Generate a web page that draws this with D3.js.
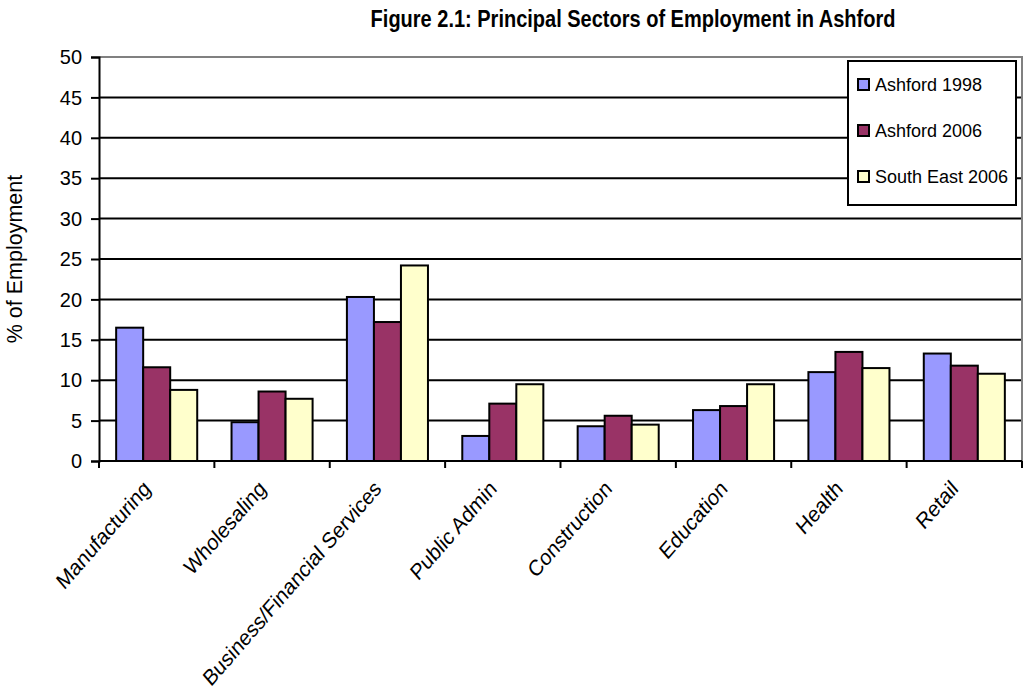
<!DOCTYPE html>
<html>
<head>
<meta charset="utf-8">
<script src="https://cdn.jsdelivr.net/npm/d3@7"></script>
<style>
  body { margin: 0; background: #fff; }
  text { font-family: Arial, "Liberation Sans", sans-serif; fill: #000; }
</style>
</head>
<body>
<script>
// chart data
const categories = ["Manufacturing", "Wholesaling", "Business/Financial Services", "Public Admin",
    "Construction", "Education", "Health", "Retail"];
const seriesNames = ["Ashford 1998", "Ashford 2006", "South East 2006"];
const ashford1998 = [16.5, 4.8, 20.3, 3.1, 4.3, 6.3, 11.0, 13.3];
const ashford2006 = [11.6, 8.6, 17.2, 7.1, 5.6, 6.8, 13.5, 11.8];
const southEast2006 = [8.8, 7.7, 24.2, 9.5, 4.5, 9.5, 11.5, 10.8];
const yTicks = [0, 5, 10, 15, 20, 25, 30, 35, 40, 45, 50];
const colours = ["#9999FF", "#993366", "#FFFFCC"];

const width = 1024;
const height = 697;
const margin = { top: 57, right: 2, bottom: 236, left: 99 };

const svg = d3.select("body")
    .append("svg")
    .attr("width", width)
    .attr("height", height);

const x = d3.scaleBand()
    .domain(categories)
    .range([margin.left, width - margin.right])
    .paddingInner(0)
    .paddingOuter(0);

const y = d3.scaleLinear()
    .domain([0, 50])
    .range([height - margin.bottom, margin.top]);

const seriesValues = [ashford1998, ashford2006, southEast2006];
const barW = x.bandwidth() / 4.27;
const groupOffset = (x.bandwidth() - 3 * barW) / 2;

// gridlines
svg.append("g")
    .selectAll("line")
    .data(yTicks.filter(d => d > 0 && d < 50))
    .join("line")
    .attr("x1", margin.left)
    .attr("x2", width - margin.right)
    .attr("y1", d => y(d))
    .attr("y2", d => y(d))
    .attr("stroke", "#000")
    .attr("stroke-width", 2);

// plot frame top and right (grey)
svg.append("path")
    .attr("d", `M${margin.left},${y(50)}H${width - margin.right}V${y(0)}`)
    .attr("fill", "none")
    .attr("stroke", "#808080")
    .attr("stroke-width", 2);

// bars
seriesValues.forEach((vals, s) => {
    svg.append("g")
        .selectAll("rect")
        .data(vals)
        .join("rect")
        .attr("x", (d, i) => x(categories[i]) + groupOffset + s * barW)
        .attr("y", d => y(d))
        .attr("width", barW)
        .attr("height", d => y(0) - y(d))
        .attr("fill", colours[s])
        .attr("stroke", "#000")
        .attr("stroke-width", 2);
});

// y axis
const yAxis = svg.append("g")
    .attr("transform", `translate(${margin.left},0)`)
    .call(d3.axisLeft(y).tickValues(yTicks).tickSize(8).tickPadding(9));
yAxis.select(".domain").attr("stroke", "#000").attr("stroke-width", 2);
yAxis.selectAll(".tick line").attr("stroke", "#000").attr("stroke-width", 2);
yAxis.selectAll(".tick text")
    .style("font-size", "20px")
    .style("font-family", "Arial, 'Liberation Sans', sans-serif")
    .attr("transform", "scale(1,1.05)");

// x axis (ticks at category boundaries)
const boundaries = categories.map(c => x(c)).concat([x(categories[categories.length - 1]) + x.bandwidth()]);
svg.append("line")
    .attr("x1", margin.left)
    .attr("x2", width - margin.right)
    .attr("y1", y(0))
    .attr("y2", y(0))
    .attr("stroke", "#000")
    .attr("stroke-width", 2);
svg.append("g")
    .selectAll("line")
    .data(boundaries)
    .join("line")
    .attr("x1", d => d)
    .attr("x2", d => d)
    .attr("y1", y(0))
    .attr("y2", y(0) + 7)
    .attr("stroke", "#000")
    .attr("stroke-width", 2);

// category labels (the source image is slightly stretched vertically)
svg.append("g")
    .selectAll("text")
    .data(categories)
    .join("text")
    .attr("transform", d => `translate(${x(d) + x.bandwidth() / 2 - 5},${y(0) + 29}) scale(1,1.15) rotate(-45)`)
    .attr("text-anchor", "end")
    .style("font-size", "19.5px")
    .text(d => d);

// y axis title
svg.append("text")
    .attr("transform", `translate(22,${(y(0) + y(50)) / 2}) rotate(-90)`)
    .attr("text-anchor", "middle")
    .style("font-size", "21.5px")
    .text("% of Employment");

// chart title
svg.append("text")
    .attr("transform", "translate(633,27) scale(1,1.15)")
    .attr("text-anchor", "middle")
    .style("font-size", "20px")
    .style("font-weight", "bold")
    .text("Figure 2.1: Principal Sectors of Employment in Ashford");

// legend
const legend = svg.append("g");
legend.append("rect")
    .attr("x", 848)
    .attr("y", 61)
    .attr("width", 168)
    .attr("height", 144)
    .attr("fill", "#fff")
    .attr("stroke", "#000")
    .attr("stroke-width", 2);

const items = legend.selectAll("g.item")
    .data(seriesNames)
    .join("g")
    .attr("class", "item")
    .attr("transform", (d, i) => `translate(858,${84 + i * 46})`);
items.append("rect")
    .attr("x", 0)
    .attr("y", -5)
    .attr("width", 11)
    .attr("height", 11)
    .attr("fill", (d, i) => colours[i])
    .attr("stroke", "#000")
    .attr("stroke-width", 2);
items.append("text")
    .attr("x", 17)
    .attr("y", 7)
    .style("font-size", "18px")
    .text(d => d);
</script>
</body>
</html>
